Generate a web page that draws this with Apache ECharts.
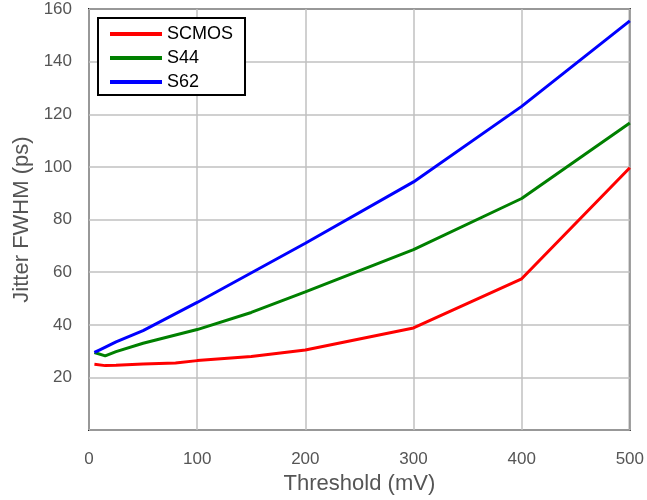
<!DOCTYPE html>
<html><head><meta charset="utf-8">
<script src="https://cdn.jsdelivr.net/npm/echarts@6/dist/echarts.min.js"></script>
<style>html,body{margin:0;padding:0;background:#fff}#c{width:647px;height:500px}</style>
</head><body><div id="c"></div>
<script>
const seriesNames = ['SCMOS', 'S44', 'S62'];
const scmos = [[5,25],[15,24.5],[25,24.6],[50,25.1],[80,25.5],[100,26.4],[150,28],[200,30.4],[300,38.8],[400,57.5],[500,99.7]];
const s44 = [[5,29.5],[15,28.2],[25,29.8],[50,33],[100,38.2],[150,44.7],[200,52.5],[300,68.6],[400,88],[500,116.7]];
const s62 = [[5,29.5],[10,30.5],[25,33.5],[50,37.8],[100,48.5],[200,71],[300,94.3],[400,123],[500,155.5]];
const colors = ['#ff0000', '#008000', '#0000ff'];
const font = 'Liberation Sans, Arial, Helvetica, sans-serif';

const chart = echarts.init(document.getElementById('c'));
chart.setOption({
  animation: false,
  color: colors,
  grid: { left: 89, right: 15, top: 9, bottom: 68, show: true, borderColor: '#222', borderWidth: 2, backgroundColor: 'transparent' },
  legend: {
    orient: 'vertical', left: 98, top: 18,
    data: seriesNames,
    icon: 'rect', itemWidth: 52, itemHeight: 4, itemGap: 6,
    borderColor: '#000', borderWidth: 2, padding: [7, 12, 4, 12],
    backgroundColor: '#fff',
    textStyle: { fontFamily: font, fontSize: 18, color: '#000' }
  },
  xAxis: {
    type: 'value', min: 0, max: 500, interval: 100,
    name: 'Threshold (mV)', nameLocation: 'middle', nameGap: 41,
    nameTextStyle: { fontFamily: font, fontSize: 22, color: '#555' },
    axisLine: { show: false }, axisTick: { show: false },
    axisLabel: { fontFamily: font, fontSize: 17, color: '#555', margin: 21 },
    splitLine: { show: true, lineStyle: { color: '#c0c0c0', width: 1.5 } }
  },
  yAxis: {
    type: 'value', min: 0, max: 160, interval: 20,
    name: 'Jitter FWHM (ps)', nameLocation: 'middle', nameGap: 56,
    nameTextStyle: { fontFamily: font, fontSize: 22, color: '#555' },
    axisLine: { show: false }, axisTick: { show: false },
    axisLabel: { fontFamily: font, fontSize: 17, color: '#555', margin: 17,
      formatter: v => v === 0 ? '' : String(v) },
    splitLine: { show: true, lineStyle: { color: '#c0c0c0', width: 1.5 } }
  },
  series: [
    { name: seriesNames[0], type: 'line', data: scmos, showSymbol: false, lineStyle: { width: 3 } },
    { name: seriesNames[1], type: 'line', data: s44, showSymbol: false, lineStyle: { width: 3 } },
    { name: seriesNames[2], type: 'line', data: s62, showSymbol: false, lineStyle: { width: 3 } }
  ]
});
</script></body></html>
